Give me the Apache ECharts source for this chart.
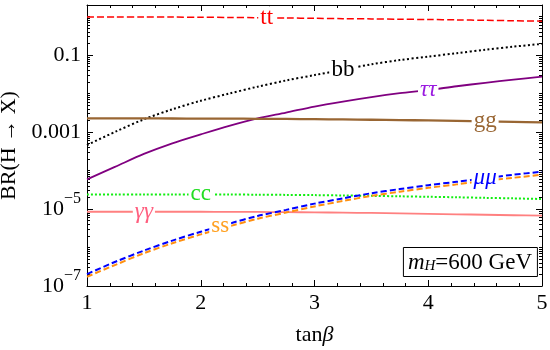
<!DOCTYPE html>
<html><head><meta charset="utf-8">
<script src="https://cdn.jsdelivr.net/npm/echarts@6/dist/echarts.min.js"></script>
<style>html,body{margin:0;padding:0;background:#fff}#c{width:550px;height:350px}</style>
</head><body><div id="c"></div>
<script>
// ---- data (branching ratios) ----
const tanb = [1, 1.25, 1.5, 1.75, 2, 2.25, 2.5, 2.75, 3, 3.25, 3.5, 3.75, 4, 4.25, 4.5, 4.75, 5];
const brTT = [0.98, 0.98, 0.975, 0.97, 0.96, 0.95, 0.935, 0.92, 0.90, 0.885, 0.87, 0.855, 0.84, 0.82, 0.80, 0.78, 0.76];
const brBB = [4.6e-4, 1.02e-3, 2.14e-3, 3.9e-3, 6.5e-3, 0.0100, 0.0151, 0.0219, 0.0302, 0.0417, 0.0575, 0.0741, 0.0912, 0.112, 0.138, 0.166, 0.195];
const brTauTau = [5.9e-5, 1.26e-4, 2.7e-4, 5.1e-4, 8.7e-4, 1.45e-3, 2.26e-3, 3.2e-3, 4.6e-3, 6.2e-3, 8.1e-3, 0.0102, 0.0123, 0.0155, 0.019, 0.023, 0.0275];
const brGG = [2.27e-3, 2.27e-3, 2.26e-3, 2.25e-3, 2.24e-3, 2.23e-3, 2.21e-3, 2.19e-3, 2.16e-3, 2.13e-3, 2.09e-3, 2.05e-3, 2.0e-3, 1.95e-3, 1.9e-3, 1.84e-3, 1.78e-3];
const brCC = [2.4e-5, 2.4e-5, 2.4e-5, 2.4e-5, 2.4e-5, 2.38e-5, 2.36e-5, 2.33e-5, 2.3e-5, 2.25e-5, 2.2e-5, 2.14e-5, 2.08e-5, 2.02e-5, 1.95e-5, 1.89e-5, 1.82e-5];
const brGamGam = [8.5e-6, 8.5e-6, 8.5e-6, 8.5e-6, 8.5e-6, 8.45e-6, 8.4e-6, 8.3e-6, 8.2e-6, 8.05e-6, 7.9e-6, 7.7e-6, 7.5e-6, 7.3e-6, 7.1e-6, 6.9e-6, 6.7e-6];
const brMuMu = [2.04e-7, 4.27e-7, 8.3e-7, 1.51e-6, 2.57e-6, 4.17e-6, 6.6e-6, 9.5e-6, 1.38e-5, 1.9e-5, 2.57e-5, 3.3e-5, 4.17e-5, 5.1e-5, 6.3e-5, 7.8e-5, 9.3e-5];
const brSS = [1.74e-7, 3.55e-7, 7.1e-7, 1.29e-6, 2.19e-6, 3.55e-6, 5.6e-6, 8.1e-6, 1.17e-5, 1.62e-5, 2.19e-5, 2.82e-5, 3.55e-5, 4.37e-5, 5.4e-5, 6.5e-5, 7.8e-5];
const xTickLabels = [1, 2, 3, 4, 5];
const yLabelExps = [-7, -5, -3, -1];
const massLabel = '600 GeV';

// ---- chart ----
const FONT = '"Liberation Serif", "Times New Roman", serif';
const yMin = -7, yMax = Math.log10(2);
const lg = v => Math.log10(v);

const minorY = [];
for (let n = -7; n <= 0; n++) {
  if (n % 2 === 0) minorY.push(n);
  if (n < 0) for (let k = 2; k <= 9; k++) minorY.push(n + Math.log10(k));
}

function yLabel(v) {
  const e = Math.round(v);
  if (e >= -3) return '{b|' + Math.pow(10, e).toFixed(-e) + '}';
  return '{b|10}{s|\u2212' + (-e) + '}';
}
const yRich = {
  b: { fontSize: 22, fontFamily: FONT, color: '#000' },
  s: { fontSize: 16, fontFamily: FONT, color: '#000', padding: [0, 0, 20, 0] }
};

function mkY(pos, main) {
  return {
    type: 'value', position: pos, min: yMin, max: yMax,
    splitLine: { show: false },
    axisLine: { show: main, onZero: false, lineStyle: { color: '#000', width: 1 } },
    axisTick: { show: true, inside: true, length: main ? 6 : 3,
      customValues: main ? yLabelExps : minorY,
      lineStyle: { color: '#000', width: 1 } },
    axisLabel: { show: main && pos === 'left', customValues: yLabelExps, formatter: yLabel, rich: yRich, margin: 6 },
    name: (main && pos === 'left') ? 'BR(H \u2192 X)' : '',
    nameLocation: 'middle', nameRotate: 90, nameGap: 66,
    nameTextStyle: { fontSize: 22, fontFamily: FONT, color: '#000' }
  };
}
function mkX(pos) {
  const bottom = pos === 'bottom';
  return {
    type: 'value', position: pos, min: 1, max: 5, interval: 1,
    splitLine: { show: false },
    axisLine: { show: true, onZero: false, lineStyle: { color: '#000', width: 1 } },
    axisTick: { show: true, inside: true, length: 6, lineStyle: { color: '#000' } },
    minorTick: { show: true, splitNumber: 5, length: 3, lineStyle: { color: '#000' } },
    axisLabel: { show: bottom, fontSize: 22, fontFamily: FONT, color: '#000', margin: 6,
      formatter: v => xTickLabels.includes(v) ? String(v) : '' },
    name: bottom ? '{n|tan}{i|\u03b2}' : '', nameLocation: 'middle', nameGap: 38,
    nameTextStyle: { fontSize: 22, fontFamily: FONT, color: '#000',
      rich: { n: { fontSize: 22, fontFamily: FONT, color: '#000' }, i: { fontSize: 22, fontFamily: FONT, fontStyle: 'italic', color: '#000' } } }
  };
}

function mkSeries(name, arr, color, type, width, labelIdx, text, labelColor, italic, offset) {
  return {
    name, type: 'line', xAxisIndex: 0, yAxisIndex: 0,
    data: tanb.map((t, i) => [t, lg(arr[i])]),
    showSymbol: false, smooth: 0.3, silent: true,
    lineStyle: { color, width, type },
    markPoint: {
      silent: true, symbol: 'circle', symbolSize: 1,
      itemStyle: { color: 'rgba(0,0,0,0)' },
      label: { show: true, position: 'inside', formatter: text, offset: offset || [0, 0],
        fontSize: 23, fontFamily: FONT, fontStyle: italic ? 'italic' : 'normal',
        color: labelColor, backgroundColor: '#fff', padding: [0, 2, 0, 2] },
      data: [{ coord: [tanb[labelIdx], lg(arr[labelIdx])] }]
    }
  };
}

const chart = echarts.init(document.getElementById('c'), null, { renderer: 'canvas' });
chart.setOption({
  animation: false,
  backgroundColor: '#fff',
  grid: { left: 87, right: 8, top: 5, bottom: 64, containLabel: false, outerBoundsMode: 'none' },
  title: {
    text: '{m|m}{h|H}{n|=' + massLabel + '}',
    right: 12, bottom: 73,
    borderColor: '#000', borderWidth: 1, backgroundColor: '#fff', padding: [4, 6, 3, 5],
    textStyle: { fontSize: 22, fontFamily: FONT, color: '#000', fontWeight: 'normal',
      rich: {
        m: { fontSize: 23, fontFamily: FONT, fontStyle: 'italic', fontWeight: 'normal', color: '#000' },
        h: { fontSize: 15, fontFamily: FONT, fontStyle: 'italic', fontWeight: 'normal', color: '#000', padding: [8, 0, 0, 0] },
        n: { fontSize: 23, fontFamily: FONT, fontWeight: 'normal', color: '#000' }
      } }
  },
  xAxis: [mkX('bottom'), mkX('top')],
  yAxis: [mkY('left', true), mkY('left', false), mkY('right', true), mkY('right', false)],
  series: [
    mkSeries('tt', brTT, '#ff0000', [7, 3], 1.5, 6, 'tt', '#ff0000', false, [9, 0]),
    mkSeries('bb', brBB, '#000000', [2, 2.5], 2, 9, 'bb', '#000000', false),
    mkSeries('tautau', brTauTau, '#800080', 'solid', 1.8, 12, '\u03c4\u03c4', '#9a1ae0', true),
    mkSeries('gg', brGG, '#996633', 'solid', 2.3, 14, 'gg', '#996633', false),
    mkSeries('cc', brCC, '#11ee11', [2, 2], 2, 4, 'cc', '#22dd22', false),
    mkSeries('gamgam', brGamGam, '#ff8080', 'solid', 1.8, 2, '\u03b3\u03b3', '#ff5f7f', true),
    mkSeries('ss', brSS, '#ff9010', [6, 3], 2, 5, 'ss', '#ffa020', false, [-9, 0]),
    mkSeries('mumu', brMuMu, '#0000ff', [6, 3], 2, 14, '\u03bc\u03bc', '#0000ff', true)
  ]
});
</script>
</body></html>
